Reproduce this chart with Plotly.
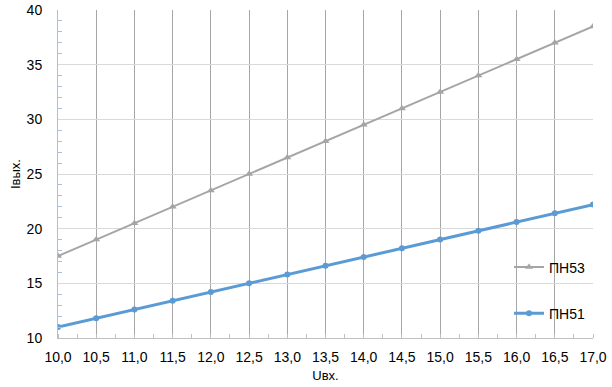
import plotly.graph_objects as go

x_vals = [10.0, 10.5, 11.0, 11.5, 12.0, 12.5, 13.0, 13.5, 14.0, 14.5, 15.0, 15.5, 16.0, 16.5, 17.0]
pn53 = [17.5, 19.0, 20.5, 22.0, 23.5, 25.0, 26.5, 28.0, 29.5, 31.0, 32.5, 34.0, 35.5, 37.0, 38.5]
pn51 = [11.0, 11.8, 12.6, 13.4, 14.2, 15.0, 15.8, 16.6, 17.4, 18.2, 19.0, 19.8, 20.6, 21.4, 22.2]
x_ticktext = [f"{v:.1f}".replace(".", ",") for v in x_vals]

fig = go.Figure()
fig.add_trace(go.Scatter(x=x_vals, y=pn53, name="ПН53", mode="lines+markers",
                         line=dict(color="#a5a5a5", width=2),
                         marker=dict(symbol="triangle-up", size=7, color="#a5a5a5"),
                         legendgroup="a"))
fig.add_trace(go.Scatter(x=x_vals, y=pn51, name="ПН51", mode="lines+markers",
                         line=dict(color="#5b9bd5", width=3),
                         marker=dict(symbol="circle", size=6, color="#5b9bd5"),
                         legendgroup="b"))

fig.update_layout(
    width=612, height=387,
    margin=dict(l=58, r=19, t=10, b=49, autoexpand=False),
    paper_bgcolor="white", plot_bgcolor="white",
    font=dict(family="Liberation Sans, Arial, sans-serif", size=14, color="#000"),
    showlegend=True,
    legend=dict(x=0.843, y=0.145, xanchor="left", yanchor="middle",
                bgcolor="rgba(0,0,0,0)", traceorder="grouped", tracegroupgap=25,
                font=dict(size=14), itemwidth=30),
    xaxis=dict(range=[10, 17], tickvals=x_vals, ticktext=x_ticktext,
               showgrid=True, gridcolor="#a6a6a6", gridwidth=1,
               showline=True, linecolor="#bfbfbf", linewidth=1,
               ticks="", zeroline=False, automargin=False, ticklabelstandoff=6,
               minor=dict(dtick=0.25, ticks="inside", ticklen=4, tickcolor="#bfbfbf", showgrid=False),
               title=dict(text="Uвх.", font=dict(size=13), standoff=7)),
    yaxis=dict(range=[10, 40], dtick=5, tick0=10,
               showgrid=True, gridcolor="#d9d9d9", gridwidth=1,
               showline=True, linecolor="#a9c0d6", linewidth=1,
               ticks="", zeroline=False, automargin=False, ticklabelstandoff=12,
               minor=dict(dtick=1, ticks="inside", ticklen=4, tickcolor="#a9c0d6", showgrid=False),
               title=dict(text="Iвых.", font=dict(size=13), standoff=3)),
)

fig.write_html("out.html")
